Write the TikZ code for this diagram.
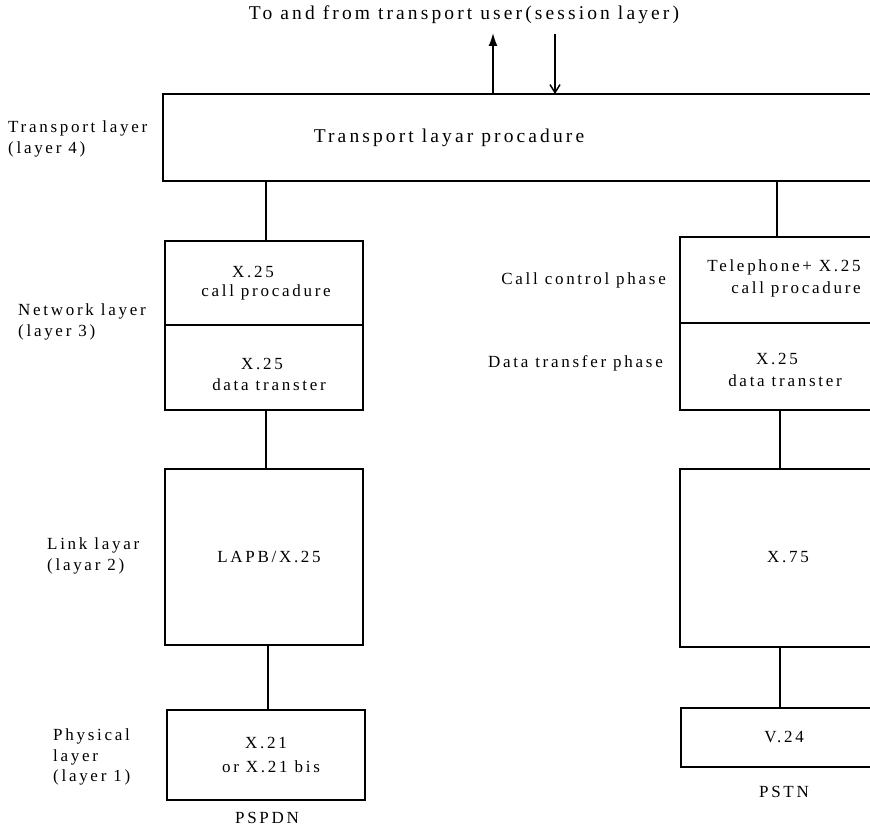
\documentclass[tikz,border=0pt]{standalone}
\usepackage{fontspec}
\setmainfont{Liberation Serif}[LetterSpace=16]
\usetikzlibrary{arrows.meta}
\begin{document}
\begin{tikzpicture}[x=1pt,y=-1pt,
  box/.style={draw, line width=1.5pt, rectangle, inner sep=0pt, outer sep=0pt, anchor=north west},
  txt/.style={font=\fontsize{19.5}{23}\selectfont, inner sep=0pt, align=center},
  btxt/.style={font=\fontsize{17}{20}\selectfont, inner sep=0pt},
  lbl/.style={font=\fontsize{17}{20.5}\selectfont, inner sep=0pt, align=left},
  conn/.style={line width=1.5pt}]
\useasboundingbox (0,0) rectangle (870,829);
% title
\node[txt] (title) at (464,15) {To and from transport user(session layer)};
% transport box
\node[box, minimum width=717pt, minimum height=87pt] (trans) at (163,94) {};
\node[txt] (transtxt) at (449,138) {Transport layar procadure};
\coordinate (upend) at (493,33);
\coordinate (downstart) at (555,34);
\draw[conn, -{Latex[length=13pt,width=9pt]}] (trans.north -| upend) -- (upend);
\draw[conn, -{Straight Barb[length=8pt,width=10pt]}] (downstart) -- (trans.north -| downstart);
% left column
\node[box, minimum width=198pt, minimum height=84pt] (lnet1) at (165,241) {};
\node[box, minimum width=198pt, minimum height=85pt] (lnet2) at (165,325) {};
\node[box, minimum width=198pt, minimum height=176pt] (llink) at (165,469) {};
\node[box, minimum width=198pt, minimum height=90pt] (lphys) at (167,710) {};
\node[btxt] (lnet1a) at (253,272) {X.25};
\node[btxt] (lnet1b) at (266,292) {call procadure};
\node[btxt] (lnet2a) at (262,364) {X.25};
\node[btxt] (lnet2b) at (269,385) {data transter};
\node[btxt] (llinkt) at (269,557) {LAPB/X.25};
\node[btxt] (lphysa) at (266,743) {X.21};
\node[btxt] (lphysb) at (271,767) {or X.21 bis};
\node[btxt] (pspdn) at (267,818) {PSPDN};
\coordinate (lcol) at (266,0);
\coordinate (lcol2) at (268,0);
\draw[conn] (trans.south -| lcol) -- (lnet1.north -| lcol);
\draw[conn] (lnet2.south -| lcol) -- (llink.north -| lcol);
\draw[conn] (llink.south -| lcol2) -- (lphys.north -| lcol2);
% right column
\node[box, minimum width=200pt, minimum height=86pt] (rnet1) at (680,237) {};
\node[box, minimum width=200pt, minimum height=87pt] (rnet2) at (680,323) {};
\node[box, minimum width=200pt, minimum height=178pt] (rlink) at (680,469) {};
\node[box, minimum width=199pt, minimum height=59pt] (rphys) at (681,708) {};
\node[btxt] (rnet1a) at (784,267) {Telephone+ X.25};
\node[btxt] (rnet1b) at (796,289) {call procadure};
\node[btxt] (rnet2a) at (777,359) {X.25};
\node[btxt] (rnet2b) at (785,381) {data transter};
\node[btxt] (rlinkt) at (788,557) {X.75};
\node[btxt] (rphyst) at (784,737) {V.24};
\node[btxt] (pstn) at (784,792) {PSTN};
\coordinate (rcol) at (777,0);
\coordinate (rcol2) at (780,0);
\draw[conn] (trans.south -| rcol) -- (rnet1.north -| rcol);
\draw[conn] (rnet2.south -| rcol2) -- (rlink.north -| rcol2);
\draw[conn] (rlink.south -| rcol2) -- (rphys.north -| rcol2);
% left labels
\node[lbl, anchor=west] (l4) at (8,139) {Transport layer\\(layer 4)};
\node[lbl, anchor=west] (l3) at (18,322) {Network layer\\(layer 3)};
\node[lbl, anchor=west] (l2) at (47,556) {Link layar\\(layar 2)};
\node[lbl, anchor=west] (l1) at (53,757) {Physical\\layer\\(layer 1)};
\node[lbl, anchor=east] (ccp) at (666,280) {Call control phase};
\node[lbl, anchor=east] (dtp) at (663,363) {Data transfer phase};
\end{tikzpicture}
\end{document}
